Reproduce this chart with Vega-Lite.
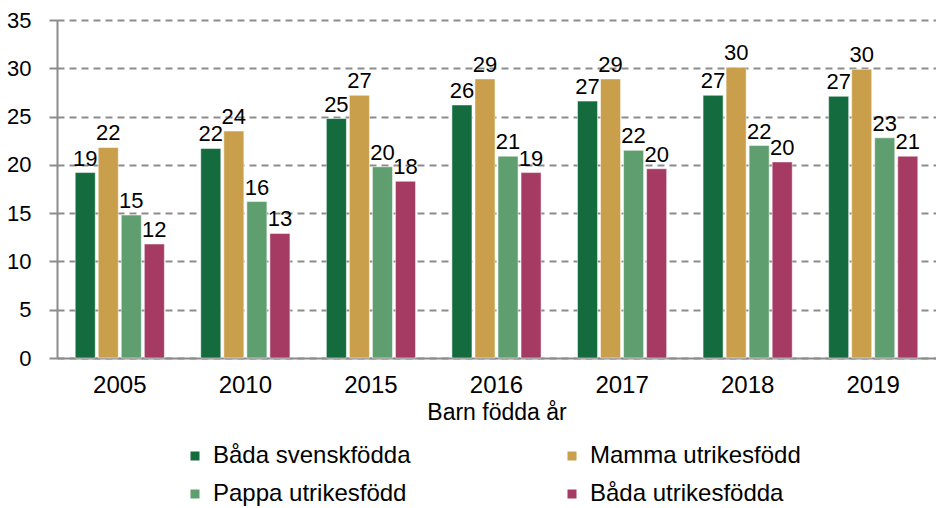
{
  "$schema": "https://vega.github.io/schema/vega-lite/v6.json",
  "width": 879,
  "height": 338,
  "autosize": {"type": "none"},
  "padding": {"left": 57, "top": 20, "right": 0, "bottom": 150},
  "config": {
    "font": "Liberation Sans",
    "view": {"stroke": null}
  },
  "data": {
    "values": [
      {"year": "2005", "grupp": "Båda svenskfödda", "v": 19.2},
      {"year": "2005", "grupp": "Mamma utrikesfödd", "v": 21.8},
      {"year": "2005", "grupp": "Pappa utrikesfödd", "v": 14.8},
      {"year": "2005", "grupp": "Båda utrikesfödda", "v": 11.8},
      {"year": "2010", "grupp": "Båda svenskfödda", "v": 21.7},
      {"year": "2010", "grupp": "Mamma utrikesfödd", "v": 23.5},
      {"year": "2010", "grupp": "Pappa utrikesfödd", "v": 16.2},
      {"year": "2010", "grupp": "Båda utrikesfödda", "v": 12.9},
      {"year": "2015", "grupp": "Båda svenskfödda", "v": 24.8},
      {"year": "2015", "grupp": "Mamma utrikesfödd", "v": 27.2},
      {"year": "2015", "grupp": "Pappa utrikesfödd", "v": 19.8},
      {"year": "2015", "grupp": "Båda utrikesfödda", "v": 18.3},
      {"year": "2016", "grupp": "Båda svenskfödda", "v": 26.2},
      {"year": "2016", "grupp": "Mamma utrikesfödd", "v": 28.9},
      {"year": "2016", "grupp": "Pappa utrikesfödd", "v": 20.9},
      {"year": "2016", "grupp": "Båda utrikesfödda", "v": 19.2},
      {"year": "2017", "grupp": "Båda svenskfödda", "v": 26.6},
      {"year": "2017", "grupp": "Mamma utrikesfödd", "v": 28.9},
      {"year": "2017", "grupp": "Pappa utrikesfödd", "v": 21.5},
      {"year": "2017", "grupp": "Båda utrikesfödda", "v": 19.6},
      {"year": "2018", "grupp": "Båda svenskfödda", "v": 27.2},
      {"year": "2018", "grupp": "Mamma utrikesfödd", "v": 30.1},
      {"year": "2018", "grupp": "Pappa utrikesfödd", "v": 22.0},
      {"year": "2018", "grupp": "Båda utrikesfödda", "v": 20.3},
      {"year": "2019", "grupp": "Båda svenskfödda", "v": 27.1},
      {"year": "2019", "grupp": "Mamma utrikesfödd", "v": 29.9},
      {"year": "2019", "grupp": "Pappa utrikesfödd", "v": 22.8},
      {"year": "2019", "grupp": "Båda utrikesfödda", "v": 20.9}
    ]
  },
  "encoding": {
    "x": {
      "field": "year",
      "type": "nominal",
      "scale": {"paddingInner": 0.29, "paddingOuter": 0.145},
      "axis": {
        "title": "Barn födda år",
        "labelAngle": 0,
        "labelFontSize": 24,
        "labelColor": "#000000",
        "labelPadding": 15,
        "titleFontSize": 23,
        "titleFontWeight": "normal",
        "titleColor": "#000000",
        "titlePadding": 4,
        "ticks": false,
        "domainColor": "#8c8c8c",
        "domainWidth": 2
      }
    },
    "xOffset": {
      "field": "grupp",
      "type": "nominal",
      "sort": ["Båda svenskfödda", "Mamma utrikesfödd", "Pappa utrikesfödd", "Båda utrikesfödda"],
      "scale": {"paddingInner": 0.13, "paddingOuter": 0}
    },
    "y": {
      "field": "v",
      "type": "quantitative",
      "scale": {"domain": [0, 35], "nice": false},
      "axis": {
        "title": null,
        "values": [0, 5, 10, 15, 20, 25, 30, 35],
        "labelFontSize": 22,
        "labelColor": "#000000",
        "labelPadding": 18,
        "tickSize": 8,
        "tickColor": "#8c8c8c",
        "tickWidth": 2,
        "domainColor": "#8c8c8c",
        "domainWidth": 2,
        "grid": true,
        "gridColor": "#8c8c8c",
        "gridWidth": 2,
        "gridDash": [7, 5]
      }
    }
  },
  "layer": [
    {
      "mark": {"type": "bar", "stroke": "#ffffff", "strokeWidth": 0.5},
      "encoding": {
        "color": {
          "field": "grupp",
          "type": "nominal",
          "sort": ["Båda svenskfödda", "Mamma utrikesfödd", "Pappa utrikesfödd", "Båda utrikesfödda"],
          "scale": {
            "domain": ["Båda svenskfödda", "Mamma utrikesfödd", "Pappa utrikesfödd", "Båda utrikesfödda"],
            "range": ["#146B3E", "#CA9F4B", "#5F9E6E", "#A53A62"]
          },
          "legend": {
            "title": null,
            "orient": "none",
            "legendX": 126,
            "legendY": 424,
            "columns": 2,
            "columnPadding": 149,
            "rowPadding": 14,
            "symbolType": "square",
            "symbolSize": 81,
            "symbolStrokeWidth": 0,
            "labelFontSize": 24,
            "labelLimit": 400,
            "labelColor": "#000000",
            "labelOffset": 6,
            "direction": "horizontal"
          }
        }
      }
    },
    {
      "mark": {"type": "text", "baseline": "bottom", "dy": -2, "fontSize": 22, "color": "#000000"},
      "encoding": {
        "text": {"field": "v", "type": "quantitative", "format": ".0f"}
      }
    }
  ]
}
